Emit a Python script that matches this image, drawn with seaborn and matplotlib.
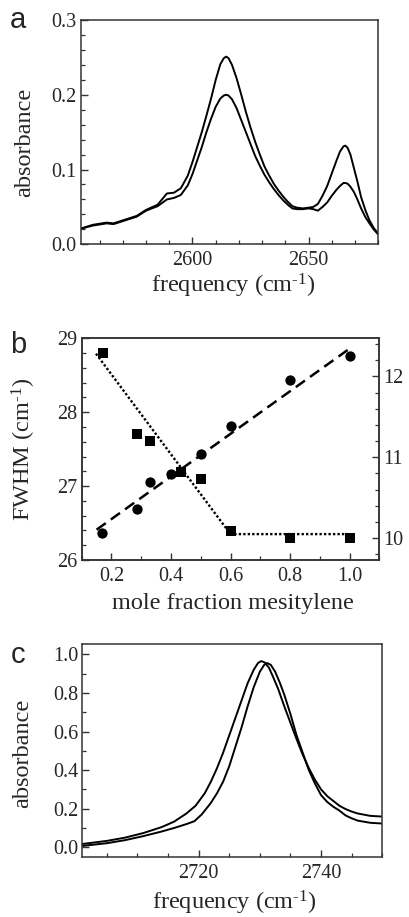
import numpy as np
import pandas as pd
import matplotlib
matplotlib.use("Agg")
import matplotlib.pyplot as plt
import seaborn as sns
from matplotlib.ticker import MultipleLocator, FormatStrFormatter

# ---------------- data: panel a (two spectra) ----------------
freq_a = [2552, 2557, 2563, 2566, 2570, 2576, 2580, 2585, 2589, 2592, 2595, 2598,
          2600, 2602, 2604, 2606, 2608, 2610, 2612, 2613.5, 2614.5, 2615.5, 2617,
          2619, 2621, 2623, 2625, 2627, 2629, 2631, 2633, 2635, 2637, 2639, 2641,
          2643, 2645, 2647.5, 2650, 2652, 2654, 2656, 2658, 2660, 2662, 2663.5,
          2665, 2665.8, 2666.8, 2668, 2669.5, 2671, 2672.6, 2674.5, 2676.2, 2678,
          2680]
abs_a1 = [0.021, 0.026, 0.029, 0.028, 0.032, 0.038, 0.046, 0.053, 0.068, 0.069,
          0.075, 0.092, 0.110, 0.130, 0.150, 0.172, 0.195, 0.220, 0.241, 0.249,
          0.251, 0.249, 0.240, 0.222, 0.200, 0.177, 0.156, 0.137, 0.120, 0.104,
          0.092, 0.081, 0.072, 0.064, 0.057, 0.051, 0.049, 0.048, 0.049, 0.050,
          0.054, 0.065, 0.078, 0.095, 0.112, 0.124, 0.131, 0.132, 0.129, 0.120,
          0.102, 0.084, 0.063, 0.045, 0.032, 0.022, 0.014]
abs_a2 = [0.021, 0.025, 0.028, 0.027, 0.031, 0.037, 0.045, 0.051, 0.060, 0.062,
          0.066, 0.079, 0.094, 0.112, 0.130, 0.150, 0.168, 0.184, 0.195, 0.199,
          0.200, 0.199, 0.194, 0.182, 0.166, 0.150, 0.134, 0.118, 0.105, 0.093,
          0.083, 0.074, 0.066, 0.059, 0.053, 0.048, 0.047, 0.047, 0.048, 0.047,
          0.045, 0.050, 0.056, 0.065, 0.073, 0.078, 0.082, 0.082, 0.081, 0.077,
          0.070, 0.060, 0.048, 0.036, 0.028, 0.020, 0.013]

# ---------------- data: panel b ----------------
xf_circ = [0.167, 0.285, 0.33, 0.40, 0.50, 0.60, 0.80, 1.00]
fwhm_circ = [26.37, 26.69, 27.05, 27.17, 27.43, 27.82, 28.44, 28.76]
xf_sq = [0.17, 0.285, 0.33, 0.435, 0.50, 0.60, 0.80, 1.00]
right_sq = [12.29, 11.29, 11.20, 10.82, 10.73, 10.09, 10.00, 10.00]
fit_dash_x = [0.15, 1.00]
fit_dash_y = [26.41, 28.86]
fit_dot_x = [0.148, 0.60, 1.00]
fit_dot_y = [12.28, 10.05, 10.05]

# ---------------- data: panel c (two spectra) ----------------
freq_c1 = [2701, 2705, 2708, 2711, 2714, 2716, 2718, 2719.5, 2721, 2722, 2723,
           2724, 2725, 2726, 2727, 2728, 2729, 2729.7, 2730.2, 2730.8, 2731.5,
           2732.2, 2733, 2734, 2735, 2736, 2737, 2738, 2739, 2740, 2741, 2742,
           2743, 2744, 2745, 2746, 2748, 2750]
abs_c1 = [0.017, 0.033, 0.050, 0.074, 0.105, 0.133, 0.175, 0.215, 0.28, 0.34,
          0.41, 0.49, 0.58, 0.67, 0.76, 0.85, 0.92, 0.955, 0.965, 0.958, 0.93,
          0.88, 0.82, 0.73, 0.645, 0.56, 0.48, 0.41, 0.35, 0.30, 0.265, 0.24,
          0.215, 0.198, 0.185, 0.175, 0.163, 0.159]
freq_c2 = [2701, 2705, 2708, 2711, 2714, 2716, 2718, 2719.3, 2720.5, 2722, 2723,
           2724, 2725, 2726, 2727, 2728, 2729, 2730, 2730.7, 2731.2, 2731.8,
           2732.5, 2733.3, 2734, 2735, 2736, 2737, 2738, 2739, 2740, 2741, 2742,
           2743, 2744, 2745, 2746, 2748, 2750]
abs_c2 = [0.007, 0.021, 0.037, 0.058, 0.082, 0.100, 0.120, 0.135, 0.17, 0.23,
          0.28, 0.34, 0.42, 0.52, 0.62, 0.73, 0.83, 0.91, 0.945, 0.955, 0.945,
          0.91, 0.85, 0.79, 0.69, 0.58, 0.49, 0.40, 0.33, 0.27, 0.235, 0.21,
          0.19, 0.165, 0.150, 0.138, 0.127, 0.123]

# ---------------- style ----------------
sns.set_theme(style="ticks")
plt.rcParams['font.family'] = ['Liberation Serif', 'DejaVu Serif']
plt.rcParams['mathtext.fontset'] = 'custom'
plt.rcParams['mathtext.rm'] = 'Liberation Serif'
plt.rcParams['mathtext.it'] = 'Liberation Serif:italic'
plt.rcParams['axes.edgecolor'] = '#333333'
plt.rcParams['axes.linewidth'] = 1.1

TICK_FS = 14.5
LAB_FS = 17.5

W, H = 409, 917
fig = plt.figure(figsize=(W / 100, H / 100), dpi=100)


def add_ax(l, r, t, b):
    return fig.add_axes([l / W, 1 - b / H, (r - l) / W, (b - t) / H])


def style_ticks(ax, left=True, right=False):
    ax.tick_params(axis='both', which='both', direction='in', top=False,
                   left=left, right=right, labelleft=left, labelright=right,
                   color='#333333')
    ax.tick_params(which='major', length=5, width=1.0, labelsize=TICK_FS, pad=3)
    ax.tick_params(which='minor', length=2.8, width=0.9)
    ax.tick_params(axis='x', which='major', pad=5)


def place_labels(ax, xl, yl, xpos, ypos):
    ax.set_xlabel(xl, fontsize=LAB_FS)
    ax.set_ylabel(yl, fontsize=LAB_FS)
    ax.xaxis.label.set_va('center')
    ax.yaxis.label.set_va('center')
    ax.xaxis.set_label_coords(*xpos)
    ax.yaxis.set_label_coords(*ypos)


FREQ_LABEL = 'frequency (cm$^{\\mathrm{\u2010}1}$)'
FWHM_LABEL = 'FWHM (cm$^{\\mathrm{\u2010}1}$)'

# ---------------- panel a ----------------
axa = add_ax(81, 378.3, 20, 244.3)
dfa = pd.DataFrame({'freq': freq_a * 2, 'abs': abs_a1 + abs_a2,
                    'sample': ['1'] * len(freq_a) + ['2'] * len(freq_a)})
sns.lineplot(data=dfa, x='freq', y='abs', hue='sample',
             palette=['black', 'black'], estimator=None, sort=False,
             linewidth=1.4, legend=False, ax=axa)
axa.set_xlim(2552, 2680)
axa.set_ylim(0, 0.3)
axa.xaxis.set_major_locator(MultipleLocator(50))
axa.xaxis.set_minor_locator(MultipleLocator(10))
axa.yaxis.set_major_locator(MultipleLocator(0.1))
axa.yaxis.set_minor_locator(MultipleLocator(0.02))
axa.yaxis.set_major_formatter(FormatStrFormatter('%.1f'))
style_ticks(axa)
place_labels(axa, FREQ_LABEL, 'absorbance', (0.513, -0.184), (-0.188, 0.456))

# ---------------- panel b ----------------
axb = add_ax(81.7, 379.3, 338.3, 560)
sns.lineplot(x=fit_dash_x, y=fit_dash_y, color='black', linewidth=1.8,
             linestyle=(0, (4.5, 2.5)), estimator=None, sort=False, ax=axb)
sns.scatterplot(x=xf_circ, y=fwhm_circ, color='black', marker='o', s=55,
                edgecolor='black', linewidth=0, ax=axb, zorder=3)
axb.set_xlim(0.1, 1.1)
axb.set_ylim(26, 29)
axb.xaxis.set_major_locator(MultipleLocator(0.2))
axb.xaxis.set_minor_locator(MultipleLocator(0.1))
axb.xaxis.set_major_formatter(FormatStrFormatter('%.1f'))
axb.yaxis.set_major_locator(MultipleLocator(1))
axb.yaxis.set_minor_locator(MultipleLocator(0.2))
style_ticks(axb)
place_labels(axb, 'mole fraction mesitylene', FWHM_LABEL,
             (0.507, -0.198), (-0.194, 0.5))

axb2 = axb.twinx()
sns.lineplot(x=fit_dot_x, y=fit_dot_y, color='black', linewidth=1.7,
             linestyle=(0, (1, 0.9)), estimator=None, sort=False, ax=axb2)
sns.scatterplot(x=xf_sq, y=right_sq, color='black', marker='s', s=50,
                edgecolor='black', linewidth=0, ax=axb2, zorder=3)
axb2.set_ylim(9.73, 12.47)
axb2.yaxis.set_major_locator(MultipleLocator(1))
axb2.yaxis.set_minor_locator(MultipleLocator(0.2))
axb2.set_ylabel('')
style_ticks(axb2, left=False, right=True)

# ---------------- panel c ----------------
axc = add_ax(82.3, 382.3, 644.3, 857.3)
dfc = pd.DataFrame({'freq': freq_c1 + freq_c2, 'abs': abs_c1 + abs_c2,
                    'sample': ['1'] * len(freq_c1) + ['2'] * len(freq_c2)})
sns.lineplot(data=dfc, x='freq', y='abs', hue='sample',
             palette=['black', 'black'], estimator=None, sort=False,
             linewidth=1.4, legend=False, ax=axc)
axc.set_xlim(2701, 2750)
axc.set_ylim(-0.052, 1.052)
axc.xaxis.set_major_locator(MultipleLocator(20))
axc.xaxis.set_minor_locator(MultipleLocator(5))
axc.yaxis.set_major_locator(MultipleLocator(0.2))
axc.yaxis.set_minor_locator(MultipleLocator(0.1))
axc.yaxis.set_major_formatter(FormatStrFormatter('%.1f'))
style_ticks(axc)
place_labels(axc, FREQ_LABEL, 'absorbance', (0.508, -0.215), (-0.199, 0.487))

# ---------------- panel letters ----------------
for letter, (px, py) in zip(['a', 'b', 'c'], [(10, 28), (10, 353), (11, 663)]):
    fig.text(px / W, 1 - py / H, letter, ha='left', va='baseline',
             fontsize=21, family=['Liberation Sans', 'DejaVu Sans'])

fig.savefig('out.png', dpi=100)
